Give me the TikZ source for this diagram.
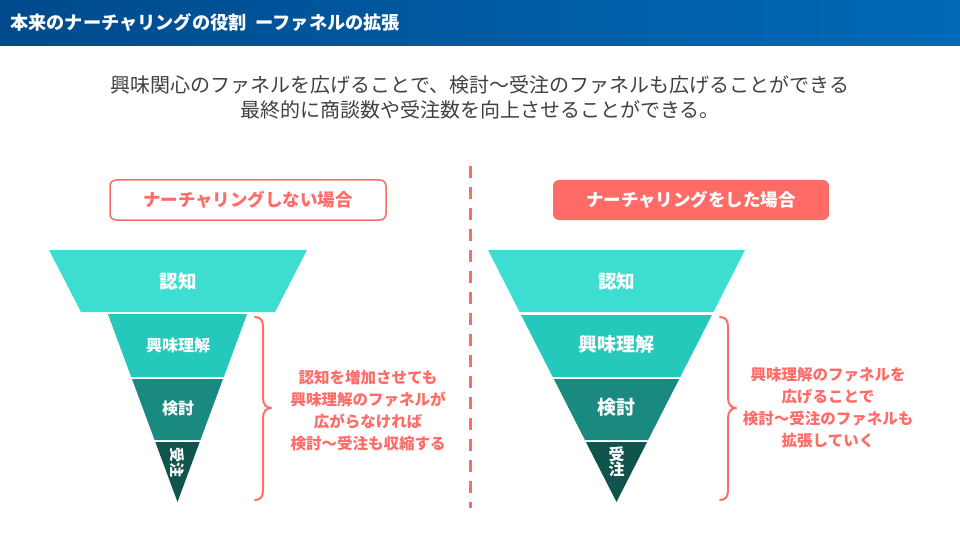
\documentclass[tikz,border=0pt]{standalone}
\usepackage{fontspec}
\setmainfont{Noto Sans CJK JP}
\usetikzlibrary{calc}
\definecolor{hdrL}{RGB}{0,74,140}
\definecolor{hdrR}{RGB}{0,106,184}
\definecolor{pinkc}{RGB}{255,108,104}
\definecolor{subc}{RGB}{64,64,64}
\definecolor{f1}{RGB}{62,221,209}
\definecolor{f2}{RGB}{36,201,187}
\definecolor{f3}{RGB}{26,138,128}
\definecolor{f4}{RGB}{16,84,78}
\tikzset{
  seglabel/.style={text=white,font=\bfseries\fontsize{#1}{#1}\selectfont,inner sep=0pt},
  sidetext/.style={text=pinkc,font=\bfseries\fontsize{15.5}{22}\selectfont,align=center,inner sep=0pt},
  subtext/.style={text=subc,font=\fontsize{20}{20}\selectfont,inner sep=0pt},
  bracec/.style={draw=pinkc,line width=2pt,line cap=round,line join=round},
  casebox/.style={rounded corners=6pt,line width=1.5pt,draw=pinkc},
  caselabel/.style={font=\bfseries\fontsize{17.5}{17.5}\selectfont,inner sep=0pt}
}
\begin{document}
\begin{tikzpicture}[x=1pt,y=-1pt]
\useasboundingbox (0,0) rectangle (960,540);
\fill[white] (0,0) rectangle (960,540);
% header
\shade[left color=hdrL,right color=hdrR] (0,0) rectangle (960,46);
\node[anchor=west,text=white,font=\bfseries\fontsize{18.2}{18.2}\selectfont,inner sep=0pt] (title) at (10,23) {本来のナーチャリングの役割\hspace{9pt}ーファネルの拡張};
% subtitle
\node[subtext] (sub1) at (480,85) {興味関心のファネルを広げることで、検討～受注のファネルも広げることができる};
\node[subtext] (sub2) at (480,110) {最終的に商談数や受注数を向上させることができる。};
% case boxes
\draw[casebox,fill=white] (110,180) rectangle (386,220);
\node[caselabel,text=pinkc] (lcase) at (248,200) {ナーチャリングしない場合};
\fill[pinkc,rounded corners=6pt] (553,180) rectangle (829,220);
\node[caselabel,text=white] (rcase) at (691,200) {ナーチャリングをした場合};
% divider
\coordinate (dtop) at (470,166);
\coordinate (dbot) at (470,508);
\draw[pinkc,line width=3pt,dash pattern=on 12pt off 9pt] (dtop) -- (dbot);
% left funnel
\fill[f1] (49,250) -- (307,250) -- (275,312) -- (81,312) -- cycle;
\fill[f2] (107.9,314) -- (247.1,314) -- (223.8,377) -- (131.2,377) -- cycle;
\fill[f3] (132,379) -- (223,379) -- (200.4,440) -- (154.6,440) -- cycle;
\fill[f4] (155.3,442) -- (199.7,442) -- (177.5,502) -- cycle;
\node[seglabel=18.5] (l1) at (178,281) {認知};
\node[seglabel=16] (l2) at (178,345) {興味理解};
\node[seglabel=16] (l3) at (178,408) {検討};
\node[seglabel=15,rotate=-90] (l4) at (177,462) {受注};
% right funnel
\fill[f1] (488,250) -- (745,250) -- (713.4,312) -- (519.6,312) -- cycle;
\fill[f2] (521.1,315) -- (711.9,315) -- (680.25,377) -- (552.75,377) -- cycle;
\fill[f3] (553.8,379) -- (679.2,379) -- (648.1,440) -- (584.9,440) -- cycle;
\fill[f4] (585.9,442) -- (647.1,442) -- (616.5,502) -- cycle;
\node[seglabel=18.5] (r1) at (616.5,281) {認知};
\node[seglabel=19] (r2) at (616.5,344) {興味理解};
\node[seglabel=19] (r3) at (616.5,407) {検討};
\node[seglabel=16,align=center,font=\bfseries\fontsize{16}{15.5}\selectfont] (r4) at (616.5,462) {受\\注};
% braces
\coordinate (lbt) at (255,317);
\coordinate (lbm) at (271,408);
\coordinate (lbb) at (255,500);
\draw[bracec] (lbt) .. controls (261,317) and (263,321) .. (263,327)
  -- (263,398) .. controls (263,404) and (266,408) .. (lbm)
  .. controls (266,408) and (263,412) .. (263,418)
  -- (263,490) .. controls (263,496) and (261,500) .. (lbb);
\coordinate (rbt) at (720,317);
\coordinate (rbm) at (736,408);
\coordinate (rbb) at (720,500);
\draw[bracec] (rbt) .. controls (726,317) and (728,321) .. (728,327)
  -- (728,398) .. controls (728,404) and (731,408) .. (rbm)
  .. controls (731,408) and (728,412) .. (728,418)
  -- (728,490) .. controls (728,496) and (726,500) .. (rbb);
% side texts
\node[sidetext] (ltext) at (368,411) {認知を増加させても\\興味理解のファネルが\\広がらなければ\\検討～受注も収縮する};
\node[sidetext] (rtext) at (828,408) {興味理解のファネルを\\広げることで\\検討～受注のファネルも\\拡張していく};
\end{tikzpicture}
\end{document}
